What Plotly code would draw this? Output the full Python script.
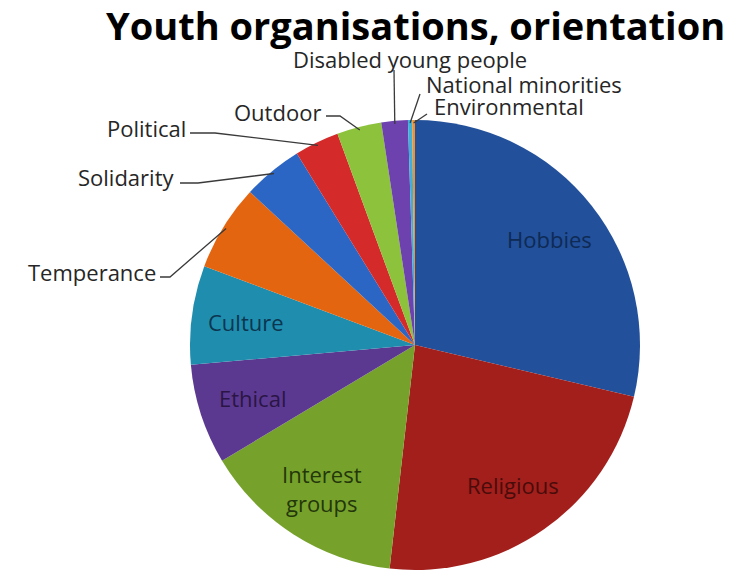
import math
import plotly.graph_objects as go

W, H = 746, 576

categories = ["Hobbies", "Religious", "Interest groups", "Ethical", "Culture",
              "Temperance", "Solidarity", "Political", "Outdoor",
              "Disabled young people", "National minorities", "Environmental"]
values = [28.7, 23.1, 14.6, 7.2, 7.1, 6.2, 4.3, 3.2, 3.2, 1.9, 0.3, 0.2]
colors = ["#22509A", "#A21F1C", "#76A22C", "#5C3990", "#1F8EAE", "#E4650F",
          "#2C66C4", "#D42A2A", "#8CC23C", "#6D41AE", "#3FB0D8", "#F0902E"]
inside_text_colors = {"Hobbies": "#0E2A55", "Religious": "#4A0C0A",
                      "Interest groups": "#24370A", "Ethical": "#2A1545",
                      "Culture": "#0B3550"}
inside_display = {"Interest groups": "Interest<br>groups"}

# outside labels: text anchor (px), xanchor, elbow point (px), line start (px)
outside = {
    "Temperance": ((158, 272), "right", (170, 277), (160, 277)),
    "Solidarity": ((176, 177), "right", (198, 183), (180, 183)),
    "Political": ((188, 128), "right", (215, 133), (190, 133)),
    "Outdoor": ((323, 112), "right", (340, 116), (326, 116)),
    "Disabled young people": ((410, 59), "center", None, (394, 70)),
    "National minorities": ((424, 84), "left", None, (420, 94)),
    "Environmental": ((432, 106), "left", None, (427, 114)),
}

FONT = "Open Sans"
CX, CY, R = 415, 345, 225  # pie centre and radius in pixels

def px(x):
    return x / W

def py(y):
    return 1 - y / H

fig = go.Figure(go.Pie(
    labels=categories, values=values, sort=False, direction="clockwise",
    rotation=0, marker=dict(colors=colors, line=dict(width=0)),
    textinfo="none", hoverinfo="label+value",
    domain=dict(x=[px(CX - R), px(CX + R)], y=[py(CY + R), py(CY - R)]),
    showlegend=False,
))

total = sum(values)
cum = 0
annotations = []
shapes = []
for cat, v in zip(categories, values):
    mid = (cum + v / 2) / total
    cum += v
    a = 2 * math.pi * mid
    if cat in inside_text_colors:
        r = 0.76 * R
        tx = CX + r * math.sin(a)
        ty = CY - r * math.cos(a)
        annotations.append(dict(
            x=px(tx), y=py(ty), xref="paper", yref="paper", showarrow=False,
            text=inside_display.get(cat, cat),
            font=dict(family=FONT, size=22, color=inside_text_colors[cat]),
            xanchor="center", yanchor="middle"))
    elif cat in outside:
        (lx, ly), xanc, elbow, start = outside[cat]
        annotations.append(dict(
            x=px(lx), y=py(ly), xref="paper", yref="paper", showarrow=False,
            text=cat, font=dict(family=FONT, size=22, color="#262626"),
            xanchor=xanc, yanchor="middle"))
        ex = CX + (R - 3) * math.sin(a)
        ey = CY - (R - 3) * math.cos(a)
        pts = [start] + ([elbow] if elbow else []) + [(ex, ey)]
        path = "M " + " L ".join(f"{px(x):.5f},{py(y):.5f}" for x, y in pts)
        shapes.append(dict(type="path", path=path, xref="paper", yref="paper",
                           line=dict(color="#3A3A3A", width=1.3)))

annotations.append(dict(
    x=px(415), y=py(25), xref="paper", yref="paper", showarrow=False,
    text="<b>Youth organisations, orientation</b>",
    font=dict(family=FONT, size=38, color="#000000"),
    xanchor="center", yanchor="middle"))

fig.update_layout(
    width=W, height=H, margin=dict(l=0, r=0, t=0, b=0),
    paper_bgcolor="white", plot_bgcolor="white",
    annotations=annotations, shapes=shapes,
)

fig.write_html("out.html")
